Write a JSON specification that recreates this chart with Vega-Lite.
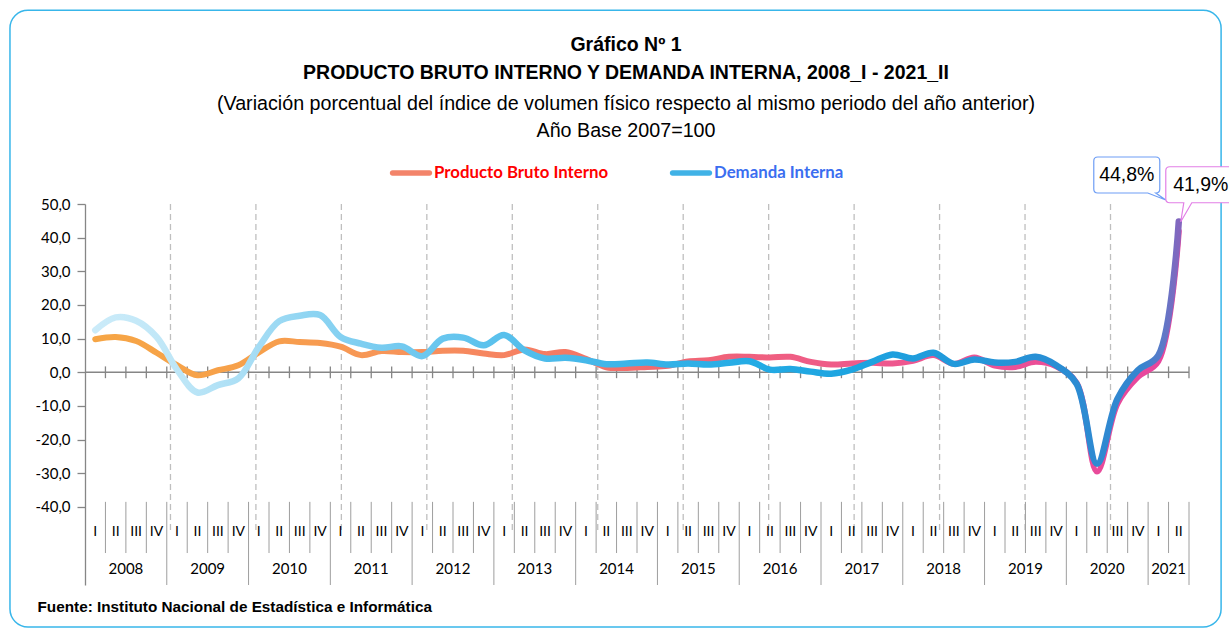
{
  "$schema": "https://vega.github.io/schema/vega-lite/v6.json",
  "width": 1104,
  "height": 381,
  "autosize": {"type": "none"},
  "padding": {"left": 85, "top": 204, "right": 40, "bottom": 49},
  "background": "white",
  "title": {
    "text": ["Gráfico Nº 1", "PRODUCTO BRUTO INTERNO Y DEMANDA INTERNA, 2008_I - 2021_II"],
    "subtitle": ["(Variación porcentual del índice de volumen físico respecto al mismo periodo del año anterior)", "Año Base 2007=100"],
    "anchor": "middle",
    "frame": "group",
    "dx": -11,
    "offset": -132,
    "font": "Liberation Sans",
    "fontSize": 19.5,
    "fontWeight": "bold",
    "color": "#000000",
    "lineHeight": 28,
    "subtitleFont": "Liberation Sans",
    "subtitleFontSize": 19.7,
    "subtitleColor": "#000000",
    "subtitleLineHeight": 27,
    "subtitlePadding": 10
  },
  "datasets": {
    "q": [
      {"n": 1, "yr": "2008", "q": "I", "pbi": 9.8, "di": 12.5},
      {"n": 2, "yr": "2008", "q": "II", "pbi": 10.5, "di": 16.3},
      {"n": 3, "yr": "2008", "q": "III", "pbi": 9.3, "di": 15.3},
      {"n": 4, "yr": "2008", "q": "IV", "pbi": 5.8, "di": 10.5},
      {"n": 5, "yr": "2009", "q": "I", "pbi": 2.1, "di": 0.8},
      {"n": 6, "yr": "2009", "q": "II", "pbi": -0.9, "di": -6.0},
      {"n": 7, "yr": "2009", "q": "III", "pbi": 0.6, "di": -3.8},
      {"n": 8, "yr": "2009", "q": "IV", "pbi": 2.1, "di": -1.8},
      {"n": 9, "yr": "2010", "q": "I", "pbi": 5.9, "di": 7.5},
      {"n": 10, "yr": "2010", "q": "II", "pbi": 9.2, "di": 15.2},
      {"n": 11, "yr": "2010", "q": "III", "pbi": 9.0, "di": 16.8},
      {"n": 12, "yr": "2010", "q": "IV", "pbi": 8.7, "di": 17.0},
      {"n": 13, "yr": "2011", "q": "I", "pbi": 7.6, "di": 10.5},
      {"n": 14, "yr": "2011", "q": "II", "pbi": 5.1, "di": 8.5},
      {"n": 15, "yr": "2011", "q": "III", "pbi": 6.3, "di": 7.3},
      {"n": 16, "yr": "2011", "q": "IV", "pbi": 6.0, "di": 7.7},
      {"n": 17, "yr": "2012", "q": "I", "pbi": 6.0, "di": 4.8},
      {"n": 18, "yr": "2012", "q": "II", "pbi": 6.4, "di": 10.0},
      {"n": 19, "yr": "2012", "q": "III", "pbi": 6.4, "di": 10.3},
      {"n": 20, "yr": "2012", "q": "IV", "pbi": 5.6, "di": 8.0},
      {"n": 21, "yr": "2013", "q": "I", "pbi": 5.1, "di": 11.1},
      {"n": 22, "yr": "2013", "q": "II", "pbi": 6.8, "di": 6.5},
      {"n": 23, "yr": "2013", "q": "III", "pbi": 5.4, "di": 4.1},
      {"n": 24, "yr": "2013", "q": "IV", "pbi": 6.0, "di": 4.3},
      {"n": 25, "yr": "2014", "q": "I", "pbi": 4.0, "di": 3.6},
      {"n": 26, "yr": "2014", "q": "II", "pbi": 1.5, "di": 2.4},
      {"n": 27, "yr": "2014", "q": "III", "pbi": 1.3, "di": 2.6},
      {"n": 28, "yr": "2014", "q": "IV", "pbi": 1.6, "di": 2.9},
      {"n": 29, "yr": "2015", "q": "I", "pbi": 1.9, "di": 2.3},
      {"n": 30, "yr": "2015", "q": "II", "pbi": 3.2, "di": 2.6},
      {"n": 31, "yr": "2015", "q": "III", "pbi": 3.6, "di": 2.3},
      {"n": 32, "yr": "2015", "q": "IV", "pbi": 4.6, "di": 2.8},
      {"n": 33, "yr": "2016", "q": "I", "pbi": 4.6, "di": 3.3},
      {"n": 34, "yr": "2016", "q": "II", "pbi": 4.4, "di": 0.8},
      {"n": 35, "yr": "2016", "q": "III", "pbi": 4.6, "di": 1.0},
      {"n": 36, "yr": "2016", "q": "IV", "pbi": 3.1, "di": 0.2},
      {"n": 37, "yr": "2017", "q": "I", "pbi": 2.3, "di": -0.4},
      {"n": 38, "yr": "2017", "q": "II", "pbi": 2.6, "di": 0.8},
      {"n": 39, "yr": "2017", "q": "III", "pbi": 2.8, "di": 3.1},
      {"n": 40, "yr": "2017", "q": "IV", "pbi": 2.6, "di": 5.3},
      {"n": 41, "yr": "2018", "q": "I", "pbi": 3.4, "di": 4.1},
      {"n": 42, "yr": "2018", "q": "II", "pbi": 5.1, "di": 5.8},
      {"n": 43, "yr": "2018", "q": "III", "pbi": 2.5, "di": 2.5},
      {"n": 44, "yr": "2018", "q": "IV", "pbi": 4.4, "di": 3.8},
      {"n": 45, "yr": "2019", "q": "I", "pbi": 2.0, "di": 2.9},
      {"n": 46, "yr": "2019", "q": "II", "pbi": 1.6, "di": 3.1},
      {"n": 47, "yr": "2019", "q": "III", "pbi": 3.1, "di": 4.6},
      {"n": 48, "yr": "2019", "q": "IV", "pbi": 1.8, "di": 2.1},
      {"n": 49, "yr": "2020", "q": "I", "pbi": -3.1, "di": -3.4},
      {"n": 50, "yr": "2020", "q": "II", "pbi": -29.5, "di": -27.2},
      {"n": 51, "yr": "2020", "q": "III", "pbi": -9.3, "di": -7.9},
      {"n": 52, "yr": "2020", "q": "IV", "pbi": -1.4, "di": 0.6},
      {"n": 53, "yr": "2021", "q": "I", "pbi": 3.3, "di": 5.0},
      {"n": 54, "yr": "2021", "q": "II", "pbi": 41.9, "di": 44.8}
    ],
    "grid": [{"k": 1}, {"k": 2}, {"k": 3}, {"k": 4}, {"k": 5}, {"k": 6}, {"k": 7}, {"k": 8}, {"k": 9}, {"k": 10}, {"k": 11}, {"k": 12}]
  },
  "data": {"name": "q"},
  "resolve": {"axis": {"x": "independent", "y": "independent"}},
  "layer": [
    {
      "data": {"values": [{}]},
      "mark": {"type": "rect", "fill": "transparent", "stroke": "#38B6EA", "strokeWidth": 1.5, "cornerRadius": 18, "clip": false},
      "encoding": {
        "x": {"datum": -3.17, "type": "quantitative", "axis": null},
        "x2": {"datum": 56.07},
        "y": {"datum": 107.6, "type": "quantitative", "axis": null},
        "y2": {"datum": -75.7}
      }
    },
    {
      "data": {"name": "grid"},
      "transform": [{"calculate": "0.5 + datum.k * 4.18", "as": "gx"}],
      "mark": {"type": "rule", "stroke": "#BFBFBF", "strokeWidth": 1.3, "strokeDash": [6, 4]},
      "encoding": {
        "x": {"field": "gx", "type": "quantitative", "axis": null},
        "y": {"datum": 50, "type": "quantitative", "axis": null},
        "y2": {"datum": -46.9}
      }
    },
    {
      "data": {"values": [{}]},
      "mark": {"type": "rule", "stroke": "#868686", "strokeWidth": 1.5},
      "encoding": {
        "x": {"datum": 0.5, "type": "quantitative", "axis": null},
        "x2": {"datum": 54.5},
        "y": {"datum": 0, "type": "quantitative", "axis": null}
      }
    },
    {
      "transform": [{"calculate": "datum.n + 0.5", "as": "b"}],
      "mark": {"type": "rule", "stroke": "#868686", "strokeWidth": 1.3},
      "encoding": {
        "x": {"field": "b", "type": "quantitative", "axis": null},
        "y": {"datum": -1.75, "type": "quantitative", "axis": null},
        "y2": {"datum": 1.75}
      }
    },
    {
      "transform": [{"filter": "datum.q != 'IV' && datum.n != 54"}, {"calculate": "datum.n + 0.5", "as": "b"}],
      "mark": {"type": "rule", "stroke": "#9E9E9E", "strokeWidth": 1},
      "encoding": {
        "x": {"field": "b", "type": "quantitative", "axis": null},
        "y": {"datum": -38.5, "type": "quantitative", "axis": null},
        "y2": {"datum": -53.7}
      }
    },
    {
      "transform": [{"filter": "datum.q == 'IV' || datum.n == 54"}, {"calculate": "datum.n + 0.5", "as": "b"}],
      "mark": {"type": "rule", "stroke": "#9E9E9E", "strokeWidth": 1},
      "encoding": {
        "x": {"field": "b", "type": "quantitative", "axis": null},
        "y": {"datum": -38.5, "type": "quantitative", "axis": null},
        "y2": {"datum": -63.2}
      }
    },
    {
      "mark": {"type": "text", "font": "Lato", "fontSize": 14, "color": "#000000", "baseline": "middle", "align": "center"},
      "encoding": {
        "x": {"field": "n", "type": "quantitative", "axis": null},
        "y": {"datum": -47.6, "type": "quantitative", "axis": null},
        "text": {"field": "q"}
      }
    },
    {
      "transform": [{"aggregate": [{"op": "mean", "field": "n", "as": "c"}], "groupby": ["yr"]}],
      "mark": {"type": "text", "font": "Lato", "fontSize": 15, "color": "#000000", "baseline": "middle", "align": "center"},
      "encoding": {
        "x": {"field": "c", "type": "quantitative", "axis": null},
        "y": {"datum": -58.4, "type": "quantitative", "axis": null},
        "text": {"field": "yr"}
      }
    },
    {
      "mark": {
        "type": "line", "interpolate": "catmull-rom", "strokeWidth": 6, "strokeCap": "round", "strokeJoin": "round",
        "stroke": {
          "gradient": "linear", "x1": 0, "y1": 0, "x2": 1, "y2": 0,
          "stops": [
            {"offset": 0, "color": "#F6A545"},
            {"offset": 0.15, "color": "#F7A04B"},
            {"offset": 0.28, "color": "#F79459"},
            {"offset": 0.36, "color": "#F68660"},
            {"offset": 0.44, "color": "#F57866"},
            {"offset": 0.52, "color": "#F1696F"},
            {"offset": 0.58, "color": "#F0627A"},
            {"offset": 0.66, "color": "#EF5C86"},
            {"offset": 0.75, "color": "#EE5790"},
            {"offset": 0.85, "color": "#EB5096"},
            {"offset": 1, "color": "#E6459E"}
          ]
        }
      },
      "encoding": {
        "x": {
          "field": "n", "type": "quantitative",
          "scale": {"domain": [0.5, 54.5], "nice": false, "zero": false},
          "axis": {
            "orient": "bottom", "domain": false, "ticks": false, "labels": false, "grid": false,
            "title": "Fuente: Instituto Nacional de Estadística e Informática",
            "titleX": -48, "titleY": 21, "titleAlign": "left", "titleBaseline": "middle", "titleAngle": 0,
            "titleFont": "Liberation Sans", "titleFontSize": 15.3, "titleFontWeight": "bold", "titleColor": "#000000"
          }
        },
        "y": {
          "field": "pbi", "type": "quantitative",
          "scale": {"domain": [-63.2, 50], "nice": false, "zero": false},
          "axis": {
            "orient": "left",
            "values": [-40, -30, -20, -10, 0, 10, 20, 30, 40, 50],
            "labelExpr": "(datum.value < 0 ? '-' : '') + replace(format(abs(datum.value), '.1f'), '.', ',')",
            "title": null, "grid": false,
            "domainColor": "#868686", "domainWidth": 1.3,
            "tickColor": "#868686", "tickWidth": 1.3, "tickSize": 8,
            "labelFont": "Lato", "labelFontSize": 15, "labelColor": "#000000", "labelPadding": 7
          }
        }
      }
    },
    {
      "mark": {
        "type": "line", "interpolate": "catmull-rom", "strokeWidth": 6.5, "strokeCap": "round", "strokeJoin": "round",
        "stroke": {
          "gradient": "linear", "x1": 0, "y1": 0, "x2": 1, "y2": 0,
          "stops": [
            {"offset": 0, "color": "#CBEBF9"},
            {"offset": 0.08, "color": "#BDE6F7"},
            {"offset": 0.14, "color": "#A9DEF5"},
            {"offset": 0.2, "color": "#8DD4F2"},
            {"offset": 0.28, "color": "#73CAF0"},
            {"offset": 0.36, "color": "#5DC2ED"},
            {"offset": 0.44, "color": "#47B9EA"},
            {"offset": 0.52, "color": "#36B2E7"},
            {"offset": 0.6, "color": "#25ACE5"},
            {"offset": 0.7, "color": "#1DA4E0"},
            {"offset": 0.8, "color": "#2298DA"},
            {"offset": 0.9, "color": "#2A8CD3"},
            {"offset": 0.965, "color": "#3585CF"},
            {"offset": 0.985, "color": "#5C79C8"},
            {"offset": 1, "color": "#8466BE"}
          ]
        }
      },
      "encoding": {
        "x": {"field": "n", "type": "quantitative", "axis": null},
        "y": {"field": "di", "type": "quantitative", "axis": null}
      }
    },
    {
      "transform": [{"filter": "datum.n == 54"}],
      "mark": {
        "type": "point", "size": 4, "filled": true, "fill": "#FFFFFF", "stroke": "#6E9EF5", "strokeWidth": 1.2, "opacity": 1,
        "shape": "M -81,-64.5 L -23,-64.5 Q -19,-64.5 -19,-60.5 L -19,-32.5 Q -19,-28.5 -23,-28.5 L -13,-21.5 L -31,-28.5 L -81,-28.5 Q -85,-28.5 -85,-32.5 L -85,-60.5 Q -85,-64.5 -81,-64.5 Z"
      },
      "encoding": {
        "x": {"field": "n", "type": "quantitative", "axis": null},
        "y": {"field": "di", "type": "quantitative", "axis": null}
      }
    },
    {
      "transform": [{"filter": "datum.n == 54"}],
      "mark": {
        "type": "point", "size": 4, "filled": true, "fill": "#FFFFFF", "stroke": "#E27FE6", "strokeWidth": 1.2, "opacity": 1,
        "shape": "M -9,-64.5 L 50,-64.5 Q 54,-64.5 54,-60.5 L 54,-32.5 Q 54,-28.5 50,-28.5 L 13,-28.5 L 2,-9.5 L 5,-28.5 L -9,-28.5 Q -13,-28.5 -13,-32.5 L -13,-60.5 Q -13,-64.5 -9,-64.5 Z"
      },
      "encoding": {
        "x": {"field": "n", "type": "quantitative", "axis": null},
        "y": {"field": "pbi", "type": "quantitative", "axis": null}
      }
    },
    {
      "transform": [{"filter": "datum.n == 54"}, {"calculate": "replace(format(datum.di, '.1f'), '.', ',') + '%'", "as": "lbl"}],
      "mark": {"type": "text", "font": "Liberation Sans", "fontSize": 19.5, "color": "#000000", "dx": -52, "dy": -46.5, "baseline": "middle", "align": "center"},
      "encoding": {
        "x": {"field": "n", "type": "quantitative", "axis": null},
        "y": {"field": "di", "type": "quantitative", "axis": null},
        "text": {"field": "lbl"}
      }
    },
    {
      "transform": [{"filter": "datum.n == 54"}, {"calculate": "replace(format(datum.pbi, '.1f'), '.', ',') + '%'", "as": "lbl"}],
      "mark": {"type": "text", "font": "Liberation Sans", "fontSize": 19.5, "color": "#000000", "dx": 22, "dy": -45.8, "baseline": "middle", "align": "center"},
      "encoding": {
        "x": {"field": "n", "type": "quantitative", "axis": null},
        "y": {"field": "pbi", "type": "quantitative", "axis": null},
        "text": {"field": "lbl"}
      }
    },
    {
      "data": {"values": [{"s": "Producto Bruto Interno"}, {"s": "Demanda Interna"}]},
      "transform": [{"filter": "datum.s == 'ninguno'"}],
      "mark": {"type": "point", "filled": true, "opacity": 1},
      "encoding": {
        "fill": {
          "field": "s", "type": "nominal",
          "scale": {"domain": ["Producto Bruto Interno", "Demanda Interna"], "range": ["#F3846A", "#40B2E6"]},
          "legend": {
            "title": null, "orient": "none", "legendX": 305, "legendY": -52, "direction": "horizontal",
            "symbolType": "M -0.88,-0.13 L 0.88,-0.13 A 0.13,0.13 0 0 1 0.88,0.13 L -0.88,0.13 A 0.13,0.13 0 0 1 -0.88,-0.13 Z",
            "symbolSize": 1764, "symbolStrokeWidth": 0, "symbolOpacity": 1,
            "labelFont": "Lato", "labelFontSize": 16.8, "labelFontWeight": "bold", "labelOffset": 2, "labelLimit": 400,
            "columnPadding": 60,
            "encode": {
              "symbols": {"update": {
                "stroke": {"value": "transparent"},
                "opacity": {"value": 1}
              }},
              "labels": {"update": {
                "fill": {"signal": "datum.value == 'Producto Bruto Interno' ? '#FF0000' : '#3B6EF0'"}
              }}
            }
          }
        }
      }
    }
  ],
  "config": {
    "view": {"stroke": null}
  }
}
